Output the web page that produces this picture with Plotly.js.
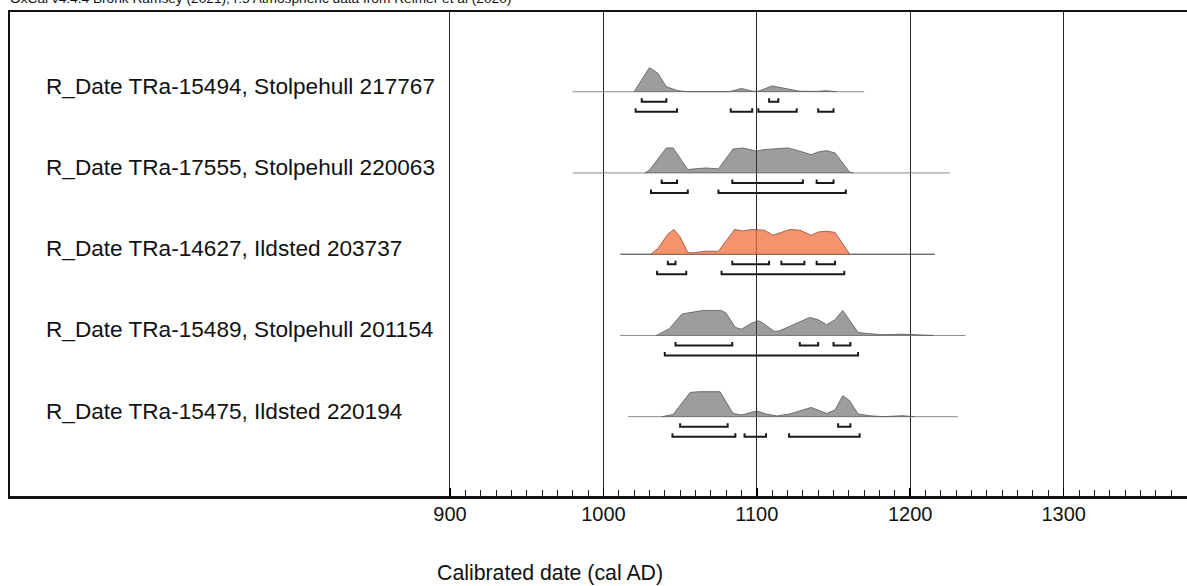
<!DOCTYPE html>
<html>
<head>
<meta charset="utf-8">
<script src="https://cdn.plot.ly/plotly-3.0.1.min.js"></script>
<style>html,body{margin:0;padding:0;background:#fff;}#chart{width:1187px;height:586px;}</style>
</head>
<body>
<div id="chart"></div>
<script>
// ---- Data ----
const rowLabels = [
  'R_Date TRa-15494, Stolpehull 217767',
  'R_Date TRa-17555, Stolpehull 220063',
  'R_Date TRa-14627, Ildsted 203737',
  'R_Date TRa-15489, Stolpehull 201154',
  'R_Date TRa-15475, Ildsted 220194'
];
const spanStart = [980, 980, 1011, 1011, 1016];
const spanEnd   = [1170, 1226, 1216, 1236, 1231];

const years1 = [1020,1030,1035.5,1041,1048.5,1055,1082,1090,1097,1101,1110,1120,1128,1139,1145,1152];
const prob1  = [0,0.96,0.74,0.2,0.04,0,0,0.13,0.02,0.02,0.23,0.1,0.02,0.01,0.04,0];

const years2 = [1027,1030,1041,1045.5,1055,1058.5,1067,1075,1084.5,1091,1100,1104,1113,1120.5,1128,1135.5,1140,1145.5,1151,1160.5,1163];
const prob2  = [0,0.11,1.0,1.0,0.13,0.16,0.2,0.16,0.96,1.0,0.87,0.93,0.97,1.0,0.87,0.73,0.84,0.89,0.8,0.03,0];

const years3 = [1031,1035.5,1042,1046,1050,1055,1057.5,1067,1075,1085.5,1091,1096.5,1105,1110.5,1121.5,1128,1135.5,1140,1145.5,1151,1160.5];
const prob3  = [0,0.23,0.8,0.99,0.69,0.07,0.05,0.12,0.12,0.99,0.93,0.99,0.96,0.76,0.99,0.96,0.76,0.89,0.92,0.87,0];

const years4 = [1034.5,1043,1051,1054,1065,1077,1080,1086,1090,1096.5,1101,1104,1111.5,1115,1134.5,1140,1145.5,1151,1156,1161.5,1166,1173.5,1182,1195,1202,1215];
const prob4  = [0,0.27,0.85,0.89,1.0,1.0,0.89,0.32,0.25,0.49,0.59,0.49,0.16,0.19,0.72,0.63,0.43,0.63,1.0,0.49,0.12,0.07,0.03,0.05,0.03,0];

const years5 = [1038,1041,1045.5,1056.5,1062,1076,1084.5,1090,1100,1106,1113,1121.5,1135.5,1145.5,1151,1156,1160.5,1166,1173.5,1182,1195,1203];
const prob5  = [0,0.03,0.09,0.97,1.0,1.0,0.13,0.07,0.23,0.11,0.03,0.11,0.37,0.13,0.27,0.84,0.64,0.11,0.04,0,0.04,0];

// highest posterior density ranges
const hpd68_1 = [[1025,1041],[1108,1114]];
const hpd95_1 = [[1021,1048],[1083,1097],[1101,1126],[1140,1150]];
const hpd68_2 = [[1038,1048],[1084,1130],[1139,1150]];
const hpd95_2 = [[1031,1055],[1075,1158]];
const hpd68_3 = [[1042,1047],[1084,1108],[1116,1131],[1139,1151]];
const hpd95_3 = [[1035,1054],[1077,1157]];
const hpd68_4 = [[1047,1084],[1128,1140],[1150,1161]];
const hpd95_4 = [[1040,1166]];
const hpd68_5 = [[1050,1081],[1153,1161]];
const hpd95_5 = [[1045,1086],[1092,1106],[1121,1167]];

const majorTicks = [900, 1000, 1100, 1200, 1300];
const majorTickLabels = ['900', '1000', '1100', '1200', '1300'];
const highlightRow = 2; // TRa-14627 drawn in orange

// ---- Styling / geometry helpers ----
const ROW_PX = 81.25;                 // pixel spacing between rows
const PEAK = 25 / ROW_PX;             // height of a max-probability peak (y units)
const OFF68 = 10 / ROW_PX, OFF95 = 20 / ROW_PX, TIP = 3.5 / ROW_PX;

const dens = [[years1,prob1],[years2,prob2],[years3,prob3],[years4,prob4],[years5,prob5]];
const hpd68 = [hpd68_1,hpd68_2,hpd68_3,hpd68_4,hpd68_5];
const hpd95 = [hpd95_1,hpd95_2,hpd95_3,hpd95_4,hpd95_5];

const traces = [];
dens.forEach(([yrs, pr], i) => {
  const row = i + 1;
  const hi = i === highlightRow;
  traces.push({x:[spanStart[i], spanEnd[i]], y:[row,row], mode:'lines', type:'scatter',
    line:{color: hi ? '#333' : '#8a8a8a', width:1}, hoverinfo:'skip'});
  traces.push({x: yrs, y: pr.map(p => row - p*PEAK), mode:'lines', type:'scatter', fill:'toself',
    fillcolor: hi ? 'rgba(240,111,62,0.75)' : 'rgba(60,60,60,0.5)',
    line:{color: hi ? '#8a4a35' : '#555', width:0.8}, hoverinfo:'skip'});
  [[hpd68[i], OFF68],[hpd95[i], OFF95]].forEach(([rngs, off]) => {
    const bx = [], by = [];
    rngs.forEach(([a,b]) => {
      const yy = row + off;
      bx.push(a,a,b,b,null); by.push(yy-TIP,yy,yy,yy-TIP,null);
    });
    traces.push({x:bx, y:by, mode:'lines', type:'scatter', line:{color:'#1a1a1a', width:2}, hoverinfo:'skip'});
  });
});

const minorTicks = [];
for (let t = 910; t <= 1380; t += 10) if (t % 100 !== 0) minorTicks.push(t);

const FONT = 'Liberation Sans, Arial, sans-serif';
const annotations = rowLabels.map((txt, i) => ({
  text: txt, xref:'paper', yref:'y', x:0.0286, y:i+1, xanchor:'left', yanchor:'bottom', yshift:-9,
  showarrow:false, font:{family:FONT, size:22.6, color:'#111'}
}));
annotations.push({text:'Calibrated date (cal AD)', xref:'paper', yref:'paper', x:0.4588, y:-0.159,
  xanchor:'center', yanchor:'middle', showarrow:false, font:{family:FONT, size:21.3, color:'#111'}});
annotations.push({text:'OxCal v4.4.4 Bronk Ramsey (2021); r:5 Atmospheric data from Reimer et al (2020)',
  xref:'paper', yref:'paper', x:-0.0017, y:1.0083, xanchor:'left', yanchor:'bottom', showarrow:false,
  font:{family:FONT, size:13.7, color:'#111'}});

const layout = {
  width:1187, height:586,
  margin:{l:10, r:0, t:12, b:90},
  paper_bgcolor:'#fff', plot_bgcolor:'#fff',
  showlegend:false,
  xaxis:{range:[613.2,1380.4], tickmode:'array', tickvals:majorTicks, ticktext:majorTickLabels,
    showgrid:true, gridcolor:'#262626', gridwidth:1, ticks:'inside', ticklen:8, tickwidth:1.5, tickcolor:'#000',
    showline:true, linecolor:'#111', linewidth:2.5, mirror:true, zeroline:false,
    ticklabelstandoff:-2,
    tickfont:{family:FONT, size:20, color:'#111'},
    minor:{tickmode:'array', tickvals:minorTicks, ticks:'inside', ticklen:6, tickwidth:1, tickcolor:'#222', showgrid:false},
    fixedrange:true},
  yaxis:{range:[5.976,0.019], showgrid:false, zeroline:false, showticklabels:false, ticks:'',
    showline:true, linecolor:'#111', linewidth:2, fixedrange:true},
  annotations: annotations
};

Plotly.newPlot('chart', traces, layout, {staticPlot:true, displayModeBar:false});
</script>
</body>
</html>
